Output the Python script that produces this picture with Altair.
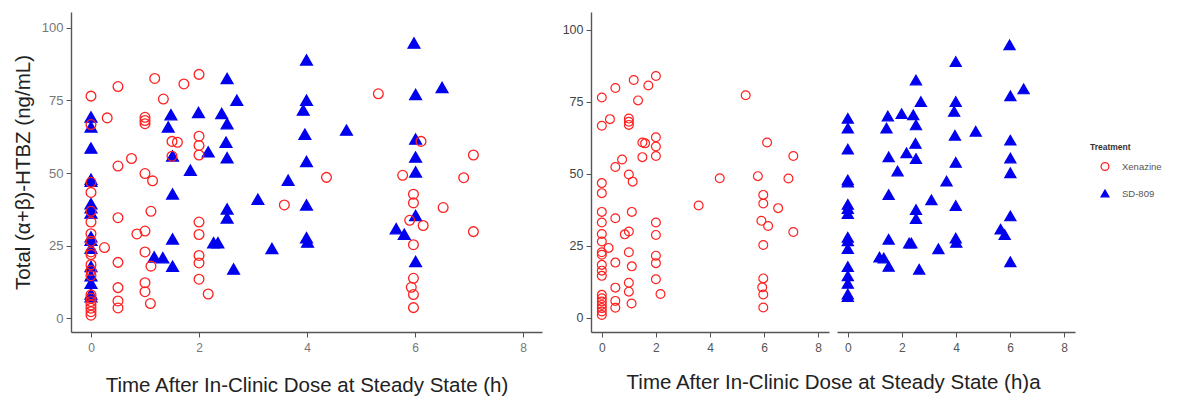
import altair as alt
import pandas as pd

treatments = ["Xenazine", "SD-809"]

xen_time = [0, 0, 0, 0, 0, 0, 0, 0, 0, 0, 0, 0, 0, 0, 0, 0, 0, 0, 0, 0,
            0.3, 0.25,
            0.5, 0.5, 0.5, 0.5, 0.5, 0.5, 0.5,
            0.75, 0.85, 1.0,
            1.0, 1.0, 1.0, 1.0, 1.0, 1.0, 1.0,
            1.14, 1.11, 1.11, 1.1, 1.18, 1.34,
            1.5, 1.6, 1.5,
            1.72,
            2.0, 2.0, 2.0, 2.0, 2.0, 2.0, 2.0, 2.0, 2.0, 2.17,
            3.58, 4.36, 5.32,
            5.77, 5.97, 5.97, 6.11, 5.9, 6.15, 5.97, 5.97, 5.93, 5.97, 5.97,
            6.52, 6.9, 7.08, 7.08]
xen_conc = [76.5, 66.7, 46.8, 43.3, 36.8, 33.1, 29.1, 26.5, 22.8, 21.9, 18.4, 16.4, 14.6, 8.0, 6.8, 5.7, 4.5, 3.4, 2.2, 1.0,
            69.0, 24.3,
            79.8, 52.4, 34.6, 19.2, 10.5, 5.9, 3.5,
            55.0, 29.0, 30.0,
            69.2, 68.1, 67.0, 49.8, 22.8, 12.2, 9.1,
            47.3, 36.8, 17.9, 5.0, 82.6, 75.5,
            60.9, 60.6, 55.8,
            80.7,
            84.0, 62.7, 59.5, 56.2, 33.1, 28.8, 21.6, 19.0, 13.4, 8.3,
            39.0, 48.5, 77.3,
            49.2, 42.7, 39.7, 60.9, 33.7, 31.9, 25.3, 13.7, 10.6, 8.1, 3.6,
            38.1, 48.4, 56.2, 29.8]

sd_time = [0, 0, 0, 0, 0, 0, 0, 0, 0, 0, 0, 0, 0, 0, 0, 0,
           1.17, 1.33, 1.48, 1.43, 1.51, 1.51, 1.51, 1.51,
           1.84, 1.99, 2.17, 2.27, 2.35,
           2.42, 2.52, 2.52, 2.5, 2.52, 2.52, 2.52, 2.7, 2.64,
           3.09, 3.35, 3.65,
           3.99, 3.99, 3.93, 3.96, 3.99, 3.99, 3.99, 4.01,
           4.73, 5.65, 5.8,
           5.98, 6.01, 6.01, 6.01, 6.01, 6.01, 6.01, 6.5]
sd_conc = [69.3, 65.9, 58.6, 47.9, 47.2, 39.4, 38.0, 36.2, 28.0, 26.8, 24.1, 17.8, 14.6, 12.0, 8.3, 7.4,
           21.1, 20.8, 70.1, 65.9, 55.9, 42.8, 27.3, 17.9,
           51.0, 70.9, 57.3, 26.0, 26.0,
           70.5, 82.6, 67.0, 60.6, 55.3, 37.6, 34.5, 75.1, 16.9,
           41.0, 24.0, 47.5,
           89.0, 75.1, 71.7, 63.4, 54.0, 39.0, 27.7, 26.2,
           64.8, 30.8, 28.9,
           94.8, 77.1, 61.7, 55.5, 50.4, 35.4, 19.5, 79.5]

y_title = "Total (α+β)-HTBZ (ng/mL)"
x_title = "Time After In-Clinic Dose at Steady State (h)"
x_title_right = "Time After In-Clinic Dose at Steady State (h)a"
x_ticks = [0, 2, 4, 6, 8]
y_ticks = [0, 25, 50, 75, 100]

df = pd.DataFrame({
    "Time": sd_time + xen_time,
    "Conc": sd_conc + xen_conc,
    "Treatment": ["SD-809"] * len(sd_time) + ["Xenazine"] * len(xen_time),
})

FONT = "Liberation Sans"
TFS = 20.5

shape_enc = alt.Shape("Treatment:N", title="Treatment",
                      scale=alt.Scale(domain=treatments, range=["circle", "triangle-up"]))
stroke_enc = alt.Stroke("Treatment:N", title="Treatment",
                        scale=alt.Scale(domain=treatments, range=["#ff2020", "#0000ee"]))
fill_enc = alt.Fill("Treatment:N", title="Treatment",
                    scale=alt.Scale(domain=treatments, range=["rgba(255,255,255,0)", "#0000ee"]))

x_left = alt.X("Time:Q", title=x_title,
               scale=alt.Scale(domain=[-0.37, 8.35], nice=False, zero=False),
               axis=alt.Axis(values=x_ticks, titlePadding=22, titleFontSize=TFS,
                             labelFontSize=12, labelColor="#777777", labelPadding=5))
y_left = alt.Y("Conc:Q", title=y_title,
               scale=alt.Scale(domain=[-4.8, 105.5], nice=False, zero=False),
               axis=alt.Axis(values=y_ticks, titlePadding=8, titleFontSize=TFS,
                             labelFontSize=13, labelColor="#777777"))

base_left = alt.Chart(df).encode(x=x_left, y=y_left, shape=shape_enc, stroke=stroke_enc, fill=fill_enc)
left = alt.layer(
    base_left.transform_filter(alt.datum.Treatment == "SD-809").mark_point(
        opacity=1, strokeWidth=1.3, size=140),
    base_left.transform_filter(alt.datum.Treatment == "Xenazine").mark_point(
        opacity=1, strokeWidth=1.3, size=95),
).properties(width=471, height=320)

f1 = alt.Chart(df).transform_filter(alt.datum.Treatment == "Xenazine").mark_point(
    opacity=1, strokeWidth=1.2, size=78).encode(
    x=alt.X("Time:Q", title=None,
            scale=alt.Scale(domain=[-0.4, 8.4], nice=False, zero=False),
            axis=alt.Axis(values=x_ticks, labelFontSize=12, labelColor="#555555", labelPadding=5)),
    y=alt.Y("Conc:Q", title=None,
            scale=alt.Scale(domain=[-4.9, 106.2], nice=False, zero=False),
            axis=alt.Axis(values=y_ticks, labelFontSize=12.5, labelColor="#444444")),
    shape=shape_enc, stroke=stroke_enc, fill=fill_enc,
).properties(width=238, height=320)

f2 = alt.Chart(df).transform_filter(alt.datum.Treatment == "SD-809").mark_point(
    opacity=1, strokeWidth=1.2, size=125).encode(
    x=alt.X("Time:Q", title=None,
            scale=alt.Scale(domain=[-0.4, 8.4], nice=False, zero=False),
            axis=alt.Axis(values=x_ticks, labelFontSize=12, labelColor="#555555", labelPadding=5)),
    y=alt.Y("Conc:Q", title=None,
            scale=alt.Scale(domain=[-4.9, 106.2], nice=False, zero=False),
            axis=None),
    shape=shape_enc, stroke=stroke_enc, fill=fill_enc,
).properties(width=238, height=320)

right = alt.hconcat(f1, f2, spacing=8).properties(
    title=alt.TitleParams(x_title_right, orient="bottom", anchor="middle", fontSize=TFS,
                          fontWeight="normal", font=FONT, color="#222222", dx=15, offset=20)
)

chart = alt.hconcat(left, right, spacing=20).resolve_scale(
    x="independent", y="independent",
).properties(
    padding={"left": 5, "top": 4, "right": 5, "bottom": 5}
).configure_view(
    stroke=None
).configure_axis(
    grid=False, domainColor="#555555", domainWidth=1.4, tickColor="#555555",
    tickSize=5, labelPadding=3, labelFont=FONT, titleFont=FONT,
    titleFontWeight="normal", titleColor="#222222",
).configure_legend(
    orient="none", legendX=1019, legendY=131,
    titleFont=FONT, titleFontSize=8.5, titleFontWeight="bold", titleColor="#333333",
    labelFont=FONT, labelFontSize=9.5, labelColor="#555555",
    symbolSize=60, symbolStrokeWidth=1.3, symbolOffset=10, labelOffset=12,
    rowPadding=14, titlePadding=10, padding=0,
)

chart.save("out.html", embed_options={"renderer": "svg", "actions": False})
